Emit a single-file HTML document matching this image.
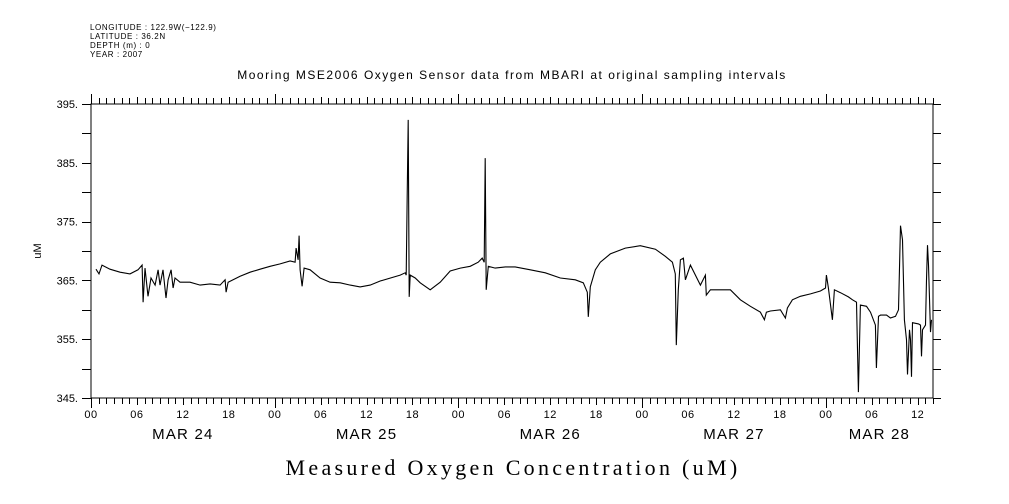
<!DOCTYPE html>
<html><head><meta charset="utf-8"><style>
html,body{margin:0;padding:0;background:#fff;}
svg{display:block;}
text{font-family:"Liberation Sans",sans-serif;fill:#000;}
</style></head><body>
<svg id="chart" width="1009" height="504" viewBox="0 0 1009 504" xmlns="http://www.w3.org/2000/svg">
<g font-size="8" letter-spacing="0.6">
<text x="90" y="30">LONGITUDE : 122.9W(−122.9)</text>
<text x="90" y="39">LATITUDE : 36.2N</text>
<text x="90" y="48">DEPTH (m) : 0</text>
<text x="90" y="57">YEAR : 2007</text>
</g>
<text x="512" y="79" font-size="12" letter-spacing="1.5" text-anchor="middle">Mooring MSE2006 Oxygen Sensor data from MBARI at original sampling intervals</text>
<text transform="translate(41,251) rotate(-90)" font-size="11" text-anchor="middle">uM</text>
<text x="513" y="475" font-size="22" letter-spacing="3.3" text-anchor="middle" style="font-family:'Liberation Serif',serif">Measured Oxygen Concentration (uM)</text>
<g id="axes"></g>
<g id="series"></g>
</svg>
<script>
const hours = [0.65,1.05,1.44,2.48,3.79,5.10,6.14,6.67,6.80,7.06,7.45,7.84,8.37,8.76,9.02,9.41,9.80,10.07,10.46,10.72,10.98,11.63,12.94,14.25,15.56,16.86,17.52,17.65,17.91,19.48,20.78,22.09,23.40,24.71,26.01,26.67,26.80,27.06,27.19,27.32,27.58,27.84,28.63,29.93,31.24,32.55,33.86,35.16,36.47,37.78,40.39,41.05,41.18,41.31,41.44,41.57,41.70,42.35,43.01,44.31,45.62,46.93,48.24,49.54,50.59,51.11,51.37,51.50,51.63,51.90,52.81,54.12,55.42,57.39,59.35,61.31,63.27,64.31,64.84,64.97,65.23,65.88,66.54,67.84,69.80,71.76,73.73,75.03,75.95,76.34,76.47,76.73,77.00,77.39,77.65,78.30,79.61,80.26,80.39,80.92,82.22,83.53,84.84,86.14,87.45,87.97,88.24,88.76,90.07,90.72,90.98,91.63,92.68,93.99,95.29,95.95,96.08,96.34,96.86,97.12,97.91,98.95,99.48,100.00,100.26,100.52,101.31,101.83,102.48,102.61,102.88,103.14,103.92,104.44,105.10,105.49,105.75,106.01,106.27,106.54,106.67,106.93,107.06,107.19,107.32,108.10,108.37,108.50,108.63,109.02,109.15,109.28,109.41,109.67,109.80];
const oxygen = [366.9,366.1,367.6,366.9,366.4,366.1,366.8,367.6,361.3,367.1,362.3,365.4,364.2,366.8,364.2,366.8,362.0,365.1,366.8,363.7,365.4,364.7,364.7,364.2,364.4,364.2,365.1,363.0,364.7,365.7,366.4,366.9,367.4,367.8,368.3,368.1,370.5,368.5,372.6,366.8,364.0,367.1,366.8,365.4,364.7,364.6,364.2,363.9,364.2,364.9,365.9,366.3,365.9,379.5,392.3,362.2,365.9,365.4,364.6,363.4,364.7,366.6,367.1,367.4,368.1,368.8,368.1,385.8,363.4,367.4,367.1,367.3,367.3,366.8,366.3,365.4,365.1,364.6,363.0,358.8,363.9,366.8,368.1,369.5,370.5,370.9,370.3,369.1,368.1,366.1,354.0,363.4,368.5,368.8,365.1,367.6,364.2,365.9,362.5,363.4,363.4,363.4,361.7,360.6,359.6,358.3,359.6,359.8,360.0,358.6,360.3,361.7,362.3,362.7,363.2,363.7,365.9,363.7,358.3,363.4,362.9,362.2,361.7,361.3,346.0,360.8,360.6,359.6,357.4,350.1,358.9,359.1,359.1,358.6,358.9,360.0,374.3,371.9,358.3,354.9,349.0,356.6,354.9,348.6,357.8,357.6,357.4,352.1,356.6,357.4,365.1,371.0,367.6,356.2,358.3];
const yTicks = [345,355,365,375,385,395];
const dayLabels = ["MAR 24","MAR 25","MAR 26","MAR 27","MAR 28"];
const hourLabels = ["00","06","12","18"];

const L=91,R=933,T=104,B=398,H0=0,H1=110,V0=345,V1=395;
const xs=h=>L+(h-H0)/(H1-H0)*(R-L);
const ys=v=>B-(v-V0)/(V1-V0)*(B-T);
const NS="http://www.w3.org/2000/svg";
const axes=document.getElementById('axes');
function mk(tag,attrs,parent){const e=document.createElementNS(NS,tag);for(const k in attrs)e.setAttribute(k,attrs[k]);parent.appendChild(e);return e;}
let d=`M${L},${T}V${B}H${R}V${T}Z`;
const frame=mk('path',{d:d,fill:'none',stroke:'#000','stroke-width':1},axes);


let td='';
for(let h=H0;h<=H1;h++){const x=Math.round(xs(h))+0.5;const len=h%24===0?10:h%6===0?7:6;td+=`M${x},${B}v${len}M${x},${T}v${-len}`;}
for(let v=V0;v<=V1;v+=5){const y=Math.round(ys(v))+0.5;td+=`M${L},${y}h-9M${R},${y}h8`;}
const ticks=mk('path',{d:td,stroke:'#000','stroke-width':1,fill:'none'},axes);


yTicks.forEach(v=>{const t=mk('text',{x:L-13,y:ys(v)+4,'font-size':11,'text-anchor':'end'},axes);t.textContent=v+'.';

});
for(let h=H0;h<=H1;h+=6){const t=mk('text',{x:xs(h),y:418,'font-size':11,'letter-spacing':0.5,'text-anchor':'middle'},axes);t.textContent=hourLabels[(h%24)/6];

}
dayLabels.forEach((s,i)=>{const mid=Math.min(i*24+12,(i*24+H1)/2);const t=mk('text',{x:xs(mid),y:439,'font-size':15,'letter-spacing':1.2,'text-anchor':'middle'},axes);t.textContent=s;

});
const pts=hours.map((h,i)=>xs(h).toFixed(1)+','+ys(oxygen[i]).toFixed(1)).join(' ');
const line=mk('polyline',{points:pts,fill:'none',stroke:'#000','stroke-width':1.1},document.getElementById('series'));


</script>
</body></html>
